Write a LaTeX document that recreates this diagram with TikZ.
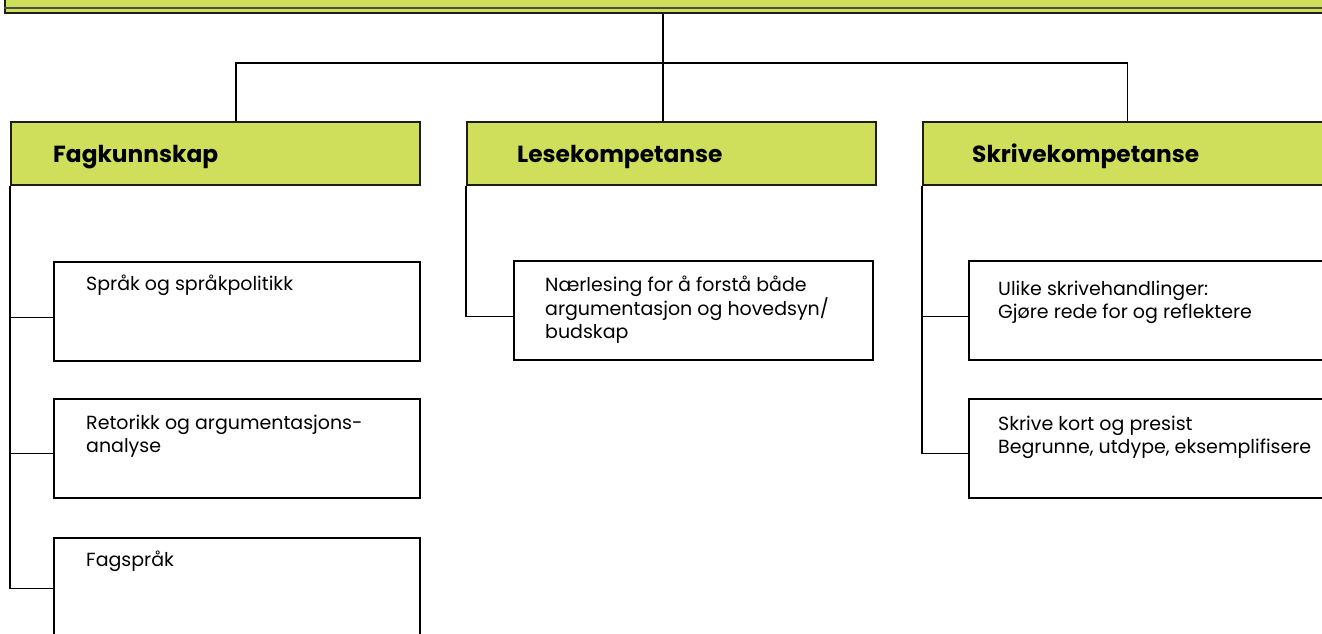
\documentclass[tikz,border=0pt]{standalone}
\usepackage{fontspec}
\setmainfont{Poppins}
\definecolor{lime}{RGB}{207,223,92}
\definecolor{edge}{RGB}{30,30,25}
\tikzset{
  x=1pt, y=-1pt,
  hdrbox/.style={draw=edge, line width=2pt, fill=lime, anchor=north west, minimum width=409pt, minimum height=63pt, inner sep=0pt},
  hdrtext/.style={anchor=base west, inner sep=0pt, font=\bfseries\fontsize{23.3}{26}\selectfont},
  childbox/.style={draw=black, line width=2pt, fill=white, anchor=north west, minimum width=366pt, minimum height=99pt, inner sep=0pt},
  childtext/.style={anchor=north west, inner sep=0pt, align=left, font=\fontsize{19}{22.5}\selectfont},
  conn/.style={draw=black, line width=1.1pt}
}
\begin{document}
\begin{tikzpicture}
\useasboundingbox (0,0) rectangle (1322,633);
% top bar
\node[draw=edge, line width=2pt, fill=lime, anchor=south west, minimum width=1340pt, minimum height=40pt, inner sep=0pt] (top) at (4,14) {};
\draw[draw=edge!80, line width=1.5pt] ([yshift=6]top.south west) -- ([yshift=6]top.south east);
% headers
\node[hdrbox] (fag) at (10,121) {};
\node[hdrbox] (lese) at (466,121) {};
\node[hdrbox] (skr) at (922,121) {};
\node[hdrtext] at ([xshift=43,yshift=-8.5]fag.west) {Fagkunnskap};
\node[hdrtext] at ([xshift=51,yshift=-8.5]lese.west) {Lesekompetanse};
\node[hdrtext] at ([xshift=50,yshift=-8.5]skr.west) {Skrivekompetanse};
% tree connectors
\coordinate (j) at (663,63);
\draw[conn] (top.south -| j) -- (j);
\draw[conn] ([xshift=226]fag.north west) |- (j) -| (skr.north);
\draw[conn] (j) -- (lese.north -| j);
% children
\node[childbox] (c1) at (53,261) {};
\node[childbox] (c2) at (53,398) {};
\node[childbox] (c3) at (53,537) {};
\node[childbox, minimum width=359pt] (l1) at (513,260) {};
\node[childbox] (s1) at (968,260) {};
\node[childbox] (s2) at (968,398) {};
\node[childtext] at ([xshift=33,yshift=-14]c1.north west) {Språk og språkpolitikk};
\node[childtext] at ([xshift=33,yshift=-17]c2.north west) {Retorikk og argumentasjons-\\analyse};
\node[childtext] at ([xshift=33,yshift=-14]c3.north west) {Fagspråk};
\node[childtext] at ([xshift=32,yshift=-16]l1.north west) {Nærlesing for å forstå både\\argumentasjon og hovedsyn/\\budskap};
\node[childtext] at ([xshift=30,yshift=-21]s1.north west) {Ulike skrivehandlinger:\\Gjøre rede for og reflektere};
\node[childtext] at ([xshift=30,yshift=-18]s2.north west) {Skrive kort og presist\\Begrunne, utdype, eksemplifisere};
% child connectors
\draw[conn] (fag.south west) |- ([yshift=-1]c3.west);
\draw[conn] ([yshift=-6]c1.west -| fag.west) -- ([yshift=-6]c1.west);
\draw[conn] ([yshift=-5]c2.west -| fag.west) -- ([yshift=-5]c2.west);
\draw[conn] (lese.south west) |- ([yshift=-6]l1.west);
\draw[conn] (skr.south west) |- ([yshift=-5]s2.west);
\draw[conn] ([yshift=-6]s1.west -| skr.west) -- ([yshift=-6]s1.west);
\end{tikzpicture}
\end{document}
